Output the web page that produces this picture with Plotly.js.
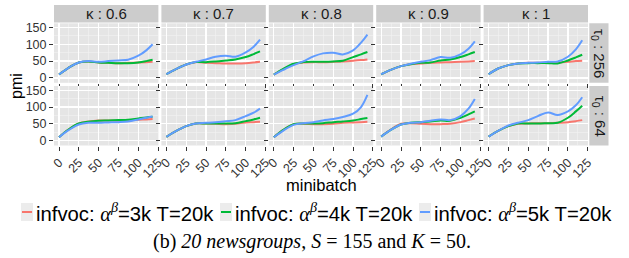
<!DOCTYPE html>
<html><head><meta charset="utf-8">
<script src="https://cdn.plot.ly/plotly-3.0.1.min.js"></script>
<style>html,body{margin:0;padding:0;background:#fff}#chart{width:629px;height:258px}</style>
</head><body><div id="chart"></div>
<script>
// facet labels
const kappas = ['0.6', '0.7', '0.8', '0.9', '1'];
const taus = ['256', '64'];
// minibatch positions of the read points
const minibatch = [0, 12, 25, 37, 50, 62, 75, 87, 100, 110, 118];
const xTicks = [0, 25, 50, 75, 100, 125];
const yTicks = [0, 50, 100, 150];
const seriesNames = ['infvoc: α^β=3k T=20k', 'infvoc: α^β=4k T=20k', 'infvoc: α^β=5k T=20k'];

// pmi, tau0 = 256, one row per kappa
const pmi3k_tau256 = [
  [10, 30, 46, 49, 46, 45, 44, 45, 46, 47, 48],
  [11, 26, 40, 47, 45, 44, 43, 43, 44, 46, 48],
  [10, 26, 41, 46, 47, 47, 48, 49, 51, 53, 55],
  [11, 24, 35, 41, 43, 45, 46, 47, 48, 49, 50],
  [11, 28, 38, 43, 45, 45, 45, 46, 48, 50, 51]
];
const pmi4k_tau256 = [
  [10, 30, 46, 49, 46, 45, 44, 44, 46, 50, 54],
  [11, 26, 40, 47, 47, 49, 52, 55, 62, 71, 79],
  [10, 27, 42, 47, 48, 48, 49, 51, 62, 70, 77],
  [11, 24, 35, 41, 45, 46, 52, 55, 62, 70, 77],
  [11, 28, 38, 43, 44, 44, 44, 43, 52, 61, 69]
];
const pmi5k_tau256 = [
  [10, 30, 46, 50, 48, 50, 52, 54, 66, 82, 100],
  [11, 26, 40, 48, 55, 63, 66, 63, 76, 93, 114],
  [10, 24, 38, 49, 64, 73, 75, 70, 82, 105, 129],
  [11, 24, 35, 42, 48, 53, 62, 60, 70, 87, 109],
  [11, 28, 38, 43, 45, 46, 48, 49, 63, 85, 112]
];
// pmi, tau0 = 64
const pmi3k_tau64 = [
  [10, 33, 51, 57, 60, 60, 59, 60, 62, 63, 64],
  [11, 28, 43, 51, 51, 50, 49, 50, 54, 55, 56],
  [10, 32, 49, 50, 49, 49, 50, 53, 54, 55, 56],
  [12, 33, 50, 52, 50, 49, 49, 50, 55, 61, 66],
  [12, 29, 43, 50, 51, 52, 52, 53, 55, 58, 61]
];
const pmi4k_tau64 = [
  [10, 33, 51, 56, 59, 60, 61, 62, 66, 69, 71],
  [11, 28, 43, 51, 51, 51, 51, 52, 58, 63, 68],
  [10, 32, 49, 51, 51, 52, 55, 57, 60, 64, 67],
  [12, 32, 48, 53, 55, 57, 60, 59, 68, 78, 87],
  [12, 29, 43, 51, 51, 51, 52, 53, 68, 87, 104]
];
const pmi5k_tau64 = [
  [10, 31, 48, 53, 53, 54, 55, 57, 63, 68, 72],
  [11, 28, 43, 51, 53, 55, 58, 61, 73, 83, 95],
  [10, 30, 47, 52, 55, 60, 64, 70, 80, 100, 136],
  [12, 32, 48, 53, 55, 59, 63, 61, 73, 95, 124],
  [12, 29, 45, 53, 61, 73, 84, 76, 87, 105, 129]
];

const colors = ['#F8766D', '#00BA38', '#619CFF'];
const W = 629, H = 258;
const colLeft = [54, 161.4, 268.8, 376.2, 483.6], colW = 104.4;
const rowTop = [23.3, 86], rowH = 59.5;
const px = v => v / W, py = v => 1 - v / H;
const FONT = 'Liberation Sans, Arial, sans-serif';

const data = [], layout = {
  width: W, height: H, margin: {l: 0, r: 0, t: 0, b: 0},
  paper_bgcolor: '#fff', plot_bgcolor: '#e5e5e5', showlegend: false,
  font: {family: FONT, color: '#333'},
  shapes: [], annotations: []
};
const rows = [[pmi3k_tau256, pmi4k_tau256, pmi5k_tau256], [pmi3k_tau64, pmi4k_tau64, pmi5k_tau64]];
for (let r = 0; r < 2; r++) {
  for (let c = 0; c < 5; c++) {
    const i = r * 5 + c + 1, sfx = i === 1 ? '' : String(i);
    for (let s = 0; s < 3; s++) {
      data.push({x: minibatch, y: rows[r][s][c], type: 'scatter', mode: 'lines', name: seriesNames[s],
        line: {color: colors[s], width: 2, shape: 'spline', smoothing: 1}, xaxis: 'x' + sfx, yaxis: 'y' + sfx, hoverinfo: 'skip'});
    }
    layout['xaxis' + sfx] = {domain: [px(colLeft[c]), px(colLeft[c] + colW)], anchor: 'y' + sfx,
      range: [-6.3, 125.3], tickvals: xTicks, ticktext: xTicks.map(String), showticklabels: r === 1,
      ticks: 'outside', ticklen: 4, tickcolor: '#333', tickwidth: 1, tickangle: -45,
      tickfont: {size: 12.5, color: '#333', family: FONT}, showgrid: true, gridcolor: '#fff', gridwidth: 1.3,
      minor: {dtick: 12.5, tick0: 0, showgrid: true, gridcolor: '#f2f2f2', gridwidth: 0.6, ticks: ''},
      zeroline: false, showline: false, fixedrange: true};
    layout['yaxis' + sfx] = {domain: [py(rowTop[r] + rowH), py(rowTop[r])], anchor: 'x' + sfx,
      range: [-14.5, 162.5], tickvals: yTicks, ticktext: yTicks.map(String), showticklabels: c === 0,
      ticks: 'outside', ticklen: 4, tickcolor: '#333', tickwidth: 1,
      tickfont: {size: 12.5, color: '#333', family: FONT}, showgrid: true, gridcolor: '#fff', gridwidth: 1.3,
      minor: {dtick: 25, tick0: 0, showgrid: true, gridcolor: '#f2f2f2', gridwidth: 0.6, ticks: ''},
      zeroline: false, showline: false, fixedrange: true};
  }
}
// top strips
for (let c = 0; c < 5; c++) {
  layout.shapes.push({type: 'rect', xref: 'paper', yref: 'paper', x0: px(colLeft[c]), x1: px(colLeft[c] + colW),
    y0: py(22.6), y1: py(5), fillcolor: '#cccccc', line: {width: 0}});
  layout.annotations.push({xref: 'paper', yref: 'paper', x: px(colLeft[c] + colW / 2), y: py(13.8),
    text: 'κ : ' + kappas[c], showarrow: false, xanchor: 'center', yanchor: 'middle',
    font: {size: 15, color: '#1a1a1a', family: FONT}});
}
// right strips
for (let r = 0; r < 2; r++) {
  layout.shapes.push({type: 'rect', xref: 'paper', yref: 'paper', x0: px(589.3), x1: px(608.5),
    y0: py(rowTop[r] + rowH), y1: py(rowTop[r]), fillcolor: '#cccccc', line: {width: 0}});
  layout.annotations.push({xref: 'paper', yref: 'paper', x: px(599), y: py(rowTop[r] + rowH / 2),
    text: 'τ<sub>0</sub> : ' + taus[r], showarrow: false, textangle: 90, xanchor: 'center', yanchor: 'middle',
    font: {size: 15, color: '#1a1a1a', family: FONT}});
}
// axis titles
layout.annotations.push({xref: 'paper', yref: 'paper', x: px(17), y: py(86), text: 'pmi', showarrow: false,
  textangle: -90, xanchor: 'center', yanchor: 'middle', font: {size: 16, color: '#000', family: FONT}});
layout.annotations.push({xref: 'paper', yref: 'paper', x: px(321), y: py(185), text: 'minibatch', showarrow: false,
  xanchor: 'center', yanchor: 'middle', font: {size: 16.5, color: '#000', family: FONT}});
// legend (drawn as keys + labels)
const legX = [21, 220, 419];
for (let s = 0; s < 3; s++) {
  layout.shapes.push({type: 'rect', xref: 'paper', yref: 'paper', x0: px(legX[s]), x1: px(legX[s] + 12),
    y0: py(221), y1: py(203), fillcolor: '#ececec', line: {width: 0}});
  layout.shapes.push({type: 'line', xref: 'paper', yref: 'paper', x0: px(legX[s] + 1), x1: px(legX[s] + 11),
    y0: py(212), y1: py(212), line: {color: colors[s], width: 2}});
  const parts = seriesNames[s].split('α^β');
  layout.annotations.push({xref: 'paper', yref: 'paper', x: px(legX[s] + 13), y: py(212),
    text: parts[0] + '<span style="font-family:Liberation Serif;font-style:italic">α<sup>β</sup></span>' + parts[1],
    showarrow: false, xanchor: 'left', yanchor: 'middle', font: {size: 20.3, color: '#000', family: FONT}});
}
// caption
layout.annotations.push({xref: 'paper', yref: 'paper', x: px(312), y: py(241),
  text: '(b) <i>20 newsgroups</i>, <i>S</i> = 155 and <i>K</i> = 50.', showarrow: false,
  xanchor: 'center', yanchor: 'middle', font: {size: 20, color: '#000', family: 'Liberation Serif, serif'}});

Plotly.newPlot('chart', data, layout, {displayModeBar: false, staticPlot: true});
</script></body></html>
